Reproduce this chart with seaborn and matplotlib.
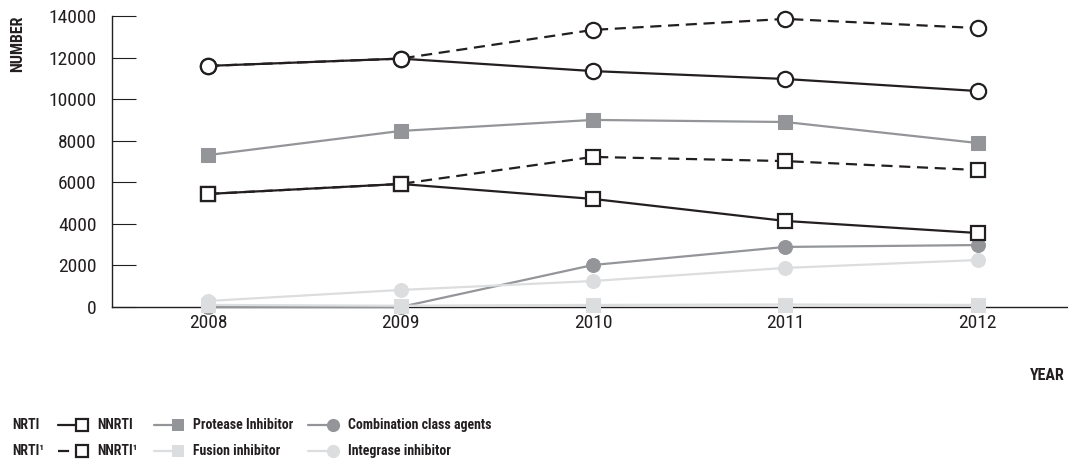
import matplotlib
matplotlib.use("Agg")
import matplotlib.pyplot as plt
from matplotlib.lines import Line2D
from matplotlib import font_manager
import seaborn as sns
import pandas as pd

# ---- data ----
years = [2008, 2009, 2010, 2011, 2012]
nrti = [11600, 11950, 11350, 10970, 10390]
nrti_1 = [11600, 11950, 13330, 13860, 13420]
nnrti = [5440, 5920, 5200, 4140, 3560]
nnrti_1 = [5440, 5920, 7220, 7020, 6590]
protease = [7310, 8470, 9000, 8900, 7890]
combination = [0, 0, 2020, 2890, 2980]
fusion = [100, 60, 100, 120, 100]
integrase = [290, 820, 1250, 1880, 2260]
y_ticks = [0, 2000, 4000, 6000, 8000, 10000, 12000, 14000]

sns.set_theme(style="white")

# ---- choose a condensed font if one is installed ----
COND = ("condensed", "semi-condensed", "extra-condensed", "ultra-condensed")
fonts = font_manager.fontManager.ttflist
FONT, STRETCH = "Liberation Sans", "normal"
found = None
for pref in ["Liberation Sans Narrow", "Roboto Condensed", "Open Sans Condensed",
             "Noto Sans", "DejaVu Sans", "Open Sans", "Roboto", "Noto Sans Display"]:
    for f in fonts:
        if f.name == pref and (f.stretch in COND or "Narrow" in f.name or "Condensed" in f.name):
            found = f
            break
    if found:
        break
if found is None:
    for f in fonts:
        if f.stretch in COND or "Narrow" in f.name or "Condensed" in f.name:
            found = f
            break
if found is not None:
    FONT = found.name
    STRETCH = found.stretch if found.stretch in COND else "normal"

plt.rcParams["font.family"] = [FONT, "DejaVu Sans"]
plt.rcParams["font.stretch"] = STRETCH
narrow = found is not None

BLACK = "#231f20"
GREY = "#939598"
LIGHT = "#dcddde"

W, H = 1068, 468
fig = plt.figure(figsize=(W / 100, H / 100), dpi=100)
ax = fig.add_axes([112 / W, 1 - 307 / H, (W - 112) / W, 291 / H])

styles = [
    ("Combination class agents", combination, dict(color=GREY, marker="o", markersize=10, markeredgecolor=GREY, markerfacecolor=GREY, linewidth=1.6)),
    ("Integrase inhibitor", integrase, dict(color=LIGHT, marker="o", markersize=10, markeredgecolor=LIGHT, markerfacecolor=LIGHT, linewidth=1.6)),
    ("Fusion inhibitor", fusion, dict(color=LIGHT, marker="s", markersize=10, markeredgecolor=LIGHT, markerfacecolor=LIGHT, linewidth=1.6)),
    ("Protease Inhibitor", protease, dict(color=GREY, marker="s", markersize=10.5, markeredgecolor=GREY, markerfacecolor=GREY, linewidth=1.6)),
    ("NNRTI1", nnrti_1, dict(color=BLACK, marker="s", markersize=9.5, markeredgecolor=BLACK, markerfacecolor="white", markeredgewidth=1.6, linewidth=1.6, linestyle=(0, (5, 3)))),
    ("NNRTI", nnrti, dict(color=BLACK, marker="s", markersize=9.5, markeredgecolor=BLACK, markerfacecolor="white", markeredgewidth=1.6, linewidth=1.6)),
    ("NRTI1", nrti_1, dict(color=BLACK, marker="o", markersize=11, markeredgecolor=BLACK, markerfacecolor="white", markeredgewidth=1.6, linewidth=1.6, linestyle=(0, (5, 3)))),
    ("NRTI", nrti, dict(color=BLACK, marker="o", markersize=11, markeredgecolor=BLACK, markerfacecolor="white", markeredgewidth=1.6, linewidth=1.6)),
]

for i, (name, vals, kw) in enumerate(styles):
    df = pd.DataFrame({"year": years, "value": vals})
    sns.lineplot(data=df, x="year", y="value", ax=ax, zorder=3 + i, clip_on=False, **kw)

tick_size = 14 if narrow else 11
lab_size = 11.5 if narrow else 9.5
leg_text_size = 10 if narrow else 9.5

ax.set_xlim(2007.5, 2012.47)
ax.set_ylim(0, 14000)
ax.set_xticks(years)
ax.set_xticklabels([str(y) for y in years])
ax.set_yticks(y_ticks)
ax.set_yticklabels([str(v) for v in y_ticks])
ax.set_xlabel("")
ax.set_ylabel("")
for s in ["top", "right"]:
    ax.spines[s].set_visible(False)
for s in ["left", "bottom"]:
    ax.spines[s].set_color(BLACK)
    ax.spines[s].set_linewidth(1.0)
ax.tick_params(axis="y", direction="in", length=17, width=0.8, color=BLACK, pad=11,
               labelsize=tick_size, labelcolor=BLACK, left=True)
ax.tick_params(axis="x", length=0, pad=5, labelsize=tick_size, labelcolor=BLACK)
ax.grid(False)

def fx(px):
    return px / W

def fy(py):
    return 1 - py / H

fig.text(fx(18), fy(44), "NUMBER", rotation=90, ha="center", va="center",
         fontsize=lab_size, fontweight="bold", color=BLACK)
fig.text(fx(1065), fy(375), "YEAR", ha="right", va="center",
         fontsize=lab_size, fontweight="bold", color=BLACK)

# ---- legend (drawn manually to match marker-at-end style) ----
rows = [425, 451]

def handle(x0, x1, y, color, marker, mfc, mec, ls="-", ms=9.5, mew=1.6):
    fig.add_artist(Line2D([fx(x0), fx(x1 - 3)], [fy(y), fy(y)], transform=fig.transFigure,
                          color=color, linewidth=1.6, linestyle=ls))
    fig.add_artist(Line2D([fx(x1)], [fy(y)], transform=fig.transFigure, marker=marker,
                          markersize=ms, markerfacecolor=mfc, markeredgecolor=mec,
                          markeredgewidth=mew, linestyle="none"))

def ltext(x, y, s):
    fig.text(fx(x), fy(y), s, ha="left", va="center", fontsize=leg_text_size,
             fontweight="bold", color=BLACK)

# row 1
ltext(12, rows[0], "NRTI")
handle(58, 82, rows[0], BLACK, "s", "white", BLACK, ms=8.5)
ltext(97, rows[0], "NNRTI")
handle(154, 178, rows[0], GREY, "s", GREY, GREY, ms=9, mew=0)
ltext(193, rows[0], "Protease Inhibitor")
handle(308, 333, rows[0], GREY, "o", GREY, GREY, ms=9.5, mew=0)
ltext(348, rows[0], "Combination class agents")
# row 2
ltext(12, rows[1], "NRTI\u00b9")
handle(58, 82, rows[1], BLACK, "s", "white", BLACK, ls=(0, (5, 3)), ms=8.5)
ltext(97, rows[1], "NNRTI\u00b9")
handle(154, 178, rows[1], LIGHT, "s", LIGHT, LIGHT, ms=9, mew=0)
ltext(193, rows[1], "Fusion inhibitor")
handle(308, 333, rows[1], LIGHT, "o", LIGHT, LIGHT, ms=9.5, mew=0)
ltext(348, rows[1], "Integrase inhibitor")

fig.savefig("out.png", dpi=100)
